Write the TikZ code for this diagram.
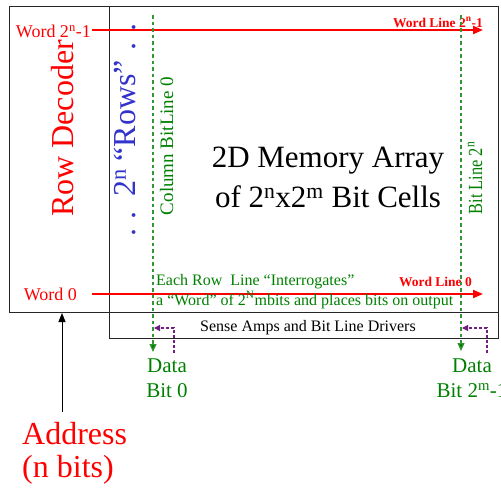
\documentclass[tikz,border=0pt]{standalone}
\usepackage{fontspec}
\setmainfont{Liberation Serif}
\usetikzlibrary{arrows.meta}
\definecolor{bitgreen}{RGB}{0,128,0}
\definecolor{dashgreen}{RGB}{50,150,50}
\definecolor{rowblue}{RGB}{51,51,204}
\definecolor{drvpurple}{RGB}{112,32,128}
\begin{document}
\begin{tikzpicture}[x=1pt,y=-1pt,
  blockbox/.style={draw=black!85, line width=1pt, inner sep=0pt, anchor=north west},
  txt/.style={inner sep=0pt},
  wordline/.style={draw=red, line width=2pt, -{Triangle[length=10pt,width=8pt]}},
  bitline/.style={draw=dashgreen, line width=1.2pt, dash pattern=on 3.5pt off 3pt, -{Triangle[length=8pt,width=7pt,fill=bitgreen]}},
  drvline/.style={draw=drvpurple, line width=1.1pt, dash pattern=on 3pt off 2pt, -{Triangle[length=6pt,width=6pt]}},
  addrline/.style={draw=black, line width=1pt, -{Triangle[length=9pt,width=7pt]}},
]
\useasboundingbox (0,0) rectangle (501,491);

% blocks
\node[blockbox, minimum width=100pt, minimum height=306pt] (dec) at (9,6) {};
\node[blockbox, minimum width=388.5pt, minimum height=306pt] (arr) at (109,6) {};
\node[blockbox, minimum width=388.5pt, minimum height=26pt] (sense) at (109,312) {};

% block titles
\node[txt, rotate=90, anchor=base, text=red, font=\fontsize{32}{36}\selectfont] (declabel) at (73,128.5) {Row Decoder};
\node[txt, rotate=90, anchor=base, text=rowblue, font=\fontsize{32}{36}\selectfont] (rows) at (135,130)
  {.\hspace{0.3em}.\hspace{0.45em}2\textsuperscript{n} “Rows”\hspace{0.3em}.\hspace{0.35em}.};
\node[txt, align=center, font=\fontsize{31}{40}\selectfont] (title) at (328,177.5)
  {2D Memory Array\\of 2\textsuperscript{n}x2\textsuperscript{m} Bit Cells};
\node[txt, anchor=base, font=\fontsize{16}{18}\selectfont] (senselabel) at (308,331) {Sense Amps and Bit Line Drivers};

% word lines
\node[txt, anchor=base east, text=red, font=\fontsize{18}{20}\selectfont] (wtop) at (91,37.5) {Word 2\textsuperscript{n}-1};
\node[txt, anchor=base east, text=red, font=\fontsize{18}{20}\selectfont] (wbot) at (77,300) {Word 0};
\coordinate (wtopstart) at (92,30);
\coordinate (wtopend) at (483,30);
\coordinate (wbotstart) at (92,294);
\coordinate (wbotend) at (483,294);
\draw[wordline] (wtopstart) -- (wtopend);
\draw[wordline] (wbotstart) -- (wbotend);
\node[txt, anchor=base east, text=red, font=\bfseries\fontsize{13.5}{15}\selectfont] (wltop) at (483,27) {Word Line 2\textsuperscript{n}-1};
\node[txt, anchor=base east, text=red, font=\bfseries\fontsize{13.5}{15}\selectfont] (wlbot) at (472,286) {Word Line 0};

% bit lines
\coordinate (b0top) at (153,15);
\coordinate (b0bot) at (153,352);
\coordinate (bntop) at (461,15);
\coordinate (bnbot) at (461,351);
\draw[bitline] (b0top) -- (b0bot);
\draw[bitline] (bntop) -- (bnbot);
\node[txt, rotate=90, anchor=base, text=bitgreen, font=\fontsize{19}{21}\selectfont] (b0label) at (173,146) {Column BitLine 0};
\node[txt, rotate=90, anchor=base, text=bitgreen, font=\fontsize{20}{22}\selectfont] (bnlabel) at (482,178) {\scalebox{0.82}[1]{Bit Line 2\textsuperscript{n}}};

% bit line drivers
\coordinate (d0start) at (174,353);
\coordinate (d0end) at (154,328);
\coordinate (dnstart) at (487,353);
\coordinate (dnend) at (462,328);
\draw[drvline] (d0start) |- (d0end);
\draw[drvline] (dnstart) |- (dnend);

% note on the word line
\node[txt, anchor=base west, text=bitgreen, font=\fontsize{16}{20}\selectfont] (note1) at (156,285) {Each Row\ \ Line “Interrogates”};
\node[txt, anchor=base west, text=bitgreen, font=\fontsize{16}{20}\selectfont] (note2) at (156,305) {a “Word” of 2\textsuperscript{N}mbits and places bits on output};

% data outputs
\node[txt, align=center, text=bitgreen, font=\fontsize{21}{25}\selectfont] (data0) at (167,378.5) {Data\\Bit 0};
\node[txt, align=center, text=bitgreen, font=\fontsize{21}{25}\selectfont] (datan) at (472,378.5) {Data\\Bit 2\textsuperscript{m}-1};

% address input
\node[txt, anchor=west, align=left, text=red, font=\fontsize{32}{33}\selectfont] (addr) at (22,453.5) {Address\\(n bits)};
\coordinate (addrtail) at (62,412);
\draw[addrline] (addrtail) -- (addrtail |- dec.south);
\end{tikzpicture}
\end{document}
